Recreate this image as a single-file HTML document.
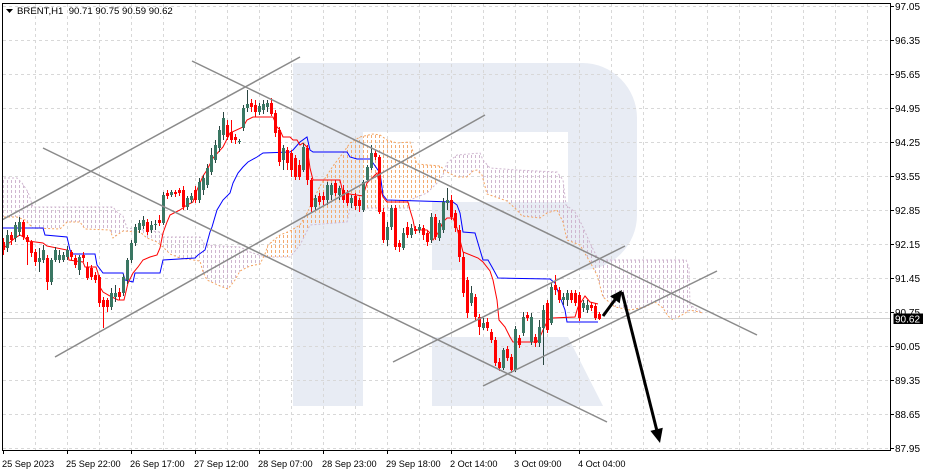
<!DOCTYPE html>
<html>
<head>
<meta charset="utf-8">
<style>
html,body{margin:0;padding:0;background:#fff;}
svg{display:block;}
text{font-family:"Liberation Sans",sans-serif;fill:#000;}
</style>
</head>
<body>
<svg width="931" height="471" viewBox="0 0 931 471" xmlns="http://www.w3.org/2000/svg">
<defs>
<clipPath id="plot"><rect x="3" y="4" width="887" height="446"/></clipPath>
<pattern id="po" patternUnits="userSpaceOnUse" x="3" y="0" width="4" height="5"><rect x="0" y="0" width="1" height="3" fill="#f3aa70" shape-rendering="crispEdges"/></pattern>
<pattern id="pt" patternUnits="userSpaceOnUse" x="3" y="0" width="4" height="5"><rect x="0" y="0" width="1" height="3" fill="#cfb6cf" shape-rendering="crispEdges"/></pattern>
<clipPath id="belowA"><polygon points="0,217 17,217 25,220 33,228 60,229 67,222 80,222 85,229 110,230 113,238 117,235 123,231 140,232 147,238 157,242 163,247 170,254 180,258 200,261 203,272 207,280 220,286 228,289 235,280 240,271 250,266 260,264 265,254 268,245 280,235 290,231 300,225 307,213 320,186 333,166 343,153 350,143 360,137 373,134 380,135 387,140 397,143 410,142 413,152 417,164 440,166 447,172 457,177 467,177 473,171 477,170 482,175 487,194 507,201 517,210 522,216 540,218 547,213 557,210 563,222 567,240 580,245 590,262 597,275 603,297 615,307 630,310 645,307 655,302 663,308 668,316 673,320 682,315 690,310 703,313 703,450 0,450"/></clipPath>
<clipPath id="aboveA"><polygon points="0,217 17,217 25,220 33,228 60,229 67,222 80,222 85,229 110,230 113,238 117,235 123,231 140,232 147,238 157,242 163,247 170,254 180,258 200,261 203,272 207,280 220,286 228,289 235,280 240,271 250,266 260,264 265,254 268,245 280,235 290,231 300,225 307,213 320,186 333,166 343,153 350,143 360,137 373,134 380,135 387,140 397,143 410,142 413,152 417,164 440,166 447,172 457,177 467,177 473,171 477,170 482,175 487,194 507,201 517,210 522,216 540,218 547,213 557,210 563,222 567,240 580,245 590,262 597,275 603,297 615,307 630,310 645,307 655,302 663,308 668,316 673,320 682,315 690,310 703,313 703,0 0,0"/></clipPath>
</defs>

<rect x="0" y="0" width="931" height="471" fill="#fff"/>

<g clip-path="url(#plot)">
<!-- watermark -->
<path d="M293 63H582A55 55 0 0 1 637 118V215A55 55 0 0 1 582 270H432V202H568V132H363V406H293Z" fill="#e8ecf4"/>
<path d="M432 337H568L603 406H432Z" fill="#e8ecf4"/>

<!-- grid -->
<g stroke="#d8d8d8" stroke-width="1" stroke-dasharray="3,3" fill="none">
<path d="M3 6.5H890M3 40.5H890M3 74.5H890M3 108.5H890M3 142.5H890M3 176.5H890M3 210.5H890M3 244.5H890M3 278.5H890M3 312.5H890M3 346.5H890M3 380.5H890M3 414.5H890M3 448.5H890"/>
<path d="M35.5 4V450M67.5 4V450M99.5 4V450M131.5 4V450M163.5 4V450M195.5 4V450M227.5 4V450M259.5 4V450M291.5 4V450M323.5 4V450M355.5 4V450M387.5 4V450M419.5 4V450M451.5 4V450M483.5 4V450M515.5 4V450M547.5 4V450M579.5 4V450M611.5 4V450M643.5 4V450M675.5 4V450M707.5 4V450M739.5 4V450M771.5 4V450M803.5 4V450M835.5 4V450M867.5 4V450"/>
</g>

<!-- cloud hatch -->
<g clip-path="url(#belowA)"><polygon points="0,178 17,178 22,183 28,192 33,207 113,207 117,212 123,216 127,228 160,232 163,237 200,237 205,245 240,247 250,252 265,257 290,257 300,245 310,225 347,222 350,208 408,208 410,200 417,197 427,193 437,183 443,175 447,163 457,155 480,153 483,160 490,168 517,170 557,172 563,180 566,205 575,212 582,225 590,243 597,257 603,260 686,260 689,268 690,305 703,313 703,0 0,0" fill="url(#po)"/></g>
<g clip-path="url(#aboveA)"><polygon points="0,178 17,178 22,183 28,192 33,207 113,207 117,212 123,216 127,228 160,232 163,237 200,237 205,245 240,247 250,252 265,257 290,257 300,245 310,225 347,222 350,208 408,208 410,200 417,197 427,193 437,183 443,175 447,163 457,155 480,153 483,160 490,168 517,170 557,172 563,180 566,205 575,212 582,225 590,243 597,257 603,260 686,260 689,268 690,305 703,313 703,450 0,450" fill="url(#pt)"/></g>

<!-- cloud borders -->
<polyline fill="none" stroke="#F4A460" stroke-width="1" stroke-dasharray="2,2" points="0,217 17,217 25,220 33,228 60,229 67,222 80,222 85,229 110,230 113,238 117,235 123,231 140,232 147,238 157,242 163,247 170,254 180,258 200,261 203,272 207,280 220,286 228,289 235,280 240,271 250,266 260,264 265,254 268,245 280,235 290,231 300,225 307,213 320,186 333,166 343,153 350,143 360,137 373,134 380,135 387,140 397,143 410,142 413,152 417,164 440,166 447,172 457,177 467,177 473,171 477,170 482,175 487,194 507,201 517,210 522,216 540,218 547,213 557,210 563,222 567,240 580,245 590,262 597,275 603,297 615,307 630,310 645,307 655,302 663,308 668,316 673,320 682,315 690,310 703,313"/>
<polyline fill="none" stroke="#cfb6cf" stroke-width="1" stroke-dasharray="2,2" points="0,178 17,178 22,183 28,192 33,207 113,207 117,212 123,216 127,228 160,232 163,237 200,237 205,245 240,247 250,252 265,257 290,257 300,245 310,225 347,222 350,208 408,208 410,200 417,197 427,193 437,183 443,175 447,163 457,155 480,153 483,160 490,168 517,170 557,172 563,180 566,205 575,212 582,225 590,243 597,257 603,260 686,260 689,268 690,305 703,313"/>

<!-- price line -->
<path d="M3 318.5H890" stroke="#cfcfcf" stroke-width="1"/>

<!-- kijun -->
<polyline fill="none" stroke="#0000ff" stroke-width="1" points="2,228 43,228 45,235 67,237 70,250 72,254 95,254 97,265 103,273 123,273 125,280 133,282 135,273 160,273 163,260 195,258 198,255 205,250 210,232 212,227 217,210 223,200 230,193 233,183 238,173 243,167 248,162 257,157 263,153 290,152 293,150 300,142 307,137 310,150 313,152 347,152 350,157 357,159 370,159 373,163 380,173 383,195 387,200 453,202 457,205 460,213 463,232 475,233 480,250 483,260 488,260 492,267 498,278 550,279 555,283 560,297 565,310 567,322 598,322"/>
<!-- tenkan -->
<polyline fill="none" stroke="#ff0000" stroke-width="1" points="2,250 8,244 15,238 20,235 25,238 28,241 43,243 47,246 67,250 69,260 83,262 85,267 96,267 98,273 100,287 103,292 110,296 118,300 124,300 128,283 133,273 138,267 143,260 150,257 157,255 160,248 163,233 167,222 170,215 180,210 187,205 193,202 197,190 203,176 207,170 213,158 223,147 230,133 243,127 247,120 253,117 273,117 277,127 280,130 283,137 290,137 293,140 297,140 300,145 303,143 307,147 310,168 313,180 340,180 343,193 363,196 367,183 373,177 377,173 380,187 383,197 387,202 408,202 410,210 413,220 415,230 427,230 430,233 433,240 438,233 443,222 447,218 453,218 457,228 460,240 463,252 478,258 483,262 490,271 493,280 497,300 499,320 505,327 510,337 513,342 537,342 540,337 543,330 548,320 552,318 575,317 578,307 585,296 590,302 598,304"/>

<!-- candles: bull -->
<path fill="none" stroke="#2a4540" stroke-width="1" d="M7.5 230V252M15.5 222V242M19.5 217V236M39.5 248V272M43.5 245V263M51.5 258V285M55.5 247V262M59.5 250V263M63.5 252V262M67.5 246V260M79.5 255V275M111.5 288V310M115.5 285V302M123.5 274V296M127.5 258V284M131.5 240V263M135.5 224V246M139.5 220V233M143.5 216V229M151.5 221V233M155.5 220V230M163.5 192V225M171.5 190V197M187.5 196V210M191.5 193V203M199.5 178V203M203.5 175V195M207.5 164V188M211.5 148V175M215.5 140V163M219.5 126V152M223.5 112V140M239.5 139V144M243.5 105V131M247.5 90V112M259.5 103V115M263.5 100V114M267.5 100V112M283.5 145V170M303.5 143V172M315.5 195V210M327.5 182V205M331.5 183V200M339.5 186V200M351.5 195V208M363.5 180V212M367.5 165V182M371.5 145V170M387.5 222V246M391.5 205V230M403.5 228V250M411.5 224V238M419.5 224V233M431.5 213V243M439.5 220V241M443.5 198V233M447.5 188V210M471.5 286V306M483.5 318V330M503.5 348V370M515.5 326V372M523.5 312V336M531.5 313V345M539.5 320V347M543.5 305V365M551.5 283V325M563.5 293V305M567.5 290V306M583.5 300V312M587.5 300V313"/>
<path fill="#3a7763" d="M6 235h3v13h-3zM14 225h3v13h-3zM18 222h3v10h-3zM38 258h3v4h-3zM42 250h3v10h-3zM50 260h3v22h-3zM54 250h3v10h-3zM58 255h3v5h-3zM62 255h3v5h-3zM66 250h3v7h-3zM78 257h3v13h-3zM110 293h3v14h-3zM114 293h3v4h-3zM122 277h3v16h-3zM126 260h3v20h-3zM130 243h3v17h-3zM134 227h3v16h-3zM138 223h3v7h-3zM142 220h3v6h-3zM150 225h3v5h-3zM154 224h3v1h-3zM162 195h3v28h-3zM170 192h3v3h-3zM186 198h3v9h-3zM190 196h3v4h-3zM198 182h3v18h-3zM202 178h3v12h-3zM206 168h3v17h-3zM210 155h3v17h-3zM214 145h3v15h-3zM218 130h3v18h-3zM222 118h3v17h-3zM238 141h3v1h-3zM242 108h3v20h-3zM246 104h3v4h-3zM258 106h3v6h-3zM262 104h3v6h-3zM266 103h3v4h-3zM282 148h3v12h-3zM302 147h3v23h-3zM314 198h3v9h-3zM326 185h3v15h-3zM330 185h3v10h-3zM338 188h3v7h-3zM350 198h3v5h-3zM362 182h3v28h-3zM366 167h3v13h-3zM370 153h3v15h-3zM386 227h3v13h-3zM390 208h3v19h-3zM402 233h3v15h-3zM410 228h3v7h-3zM418 227h3v3h-3zM430 217h3v23h-3zM438 223h3v15h-3zM442 202h3v28h-3zM446 200h3v3h-3zM470 293h3v10h-3zM482 323h3v5h-3zM502 350h3v18h-3zM514 329h3v41h-3zM522 317h3v16h-3zM530 317h3v25h-3zM538 327h3v16h-3zM542 310h3v18h-3zM550 287h3v36h-3zM562 297h3v3h-3zM566 293h3v7h-3zM582 303h3v5h-3zM586 305h3v5h-3z"/>
<!-- candles: bear -->
<path fill="none" stroke="#ff0000" stroke-width="1" d="M3.5 238V255M11.5 232V245M23.5 220V240M27.5 235V265M31.5 240V257M35.5 249V266M47.5 255V290M71.5 250V260M75.5 255V268M83.5 252V262M87.5 262V280M91.5 265V280M95.5 272V283M99.5 275V307M103.5 297V328M107.5 298V312M119.5 288V300M147.5 219V235M159.5 215V226M167.5 190V199M175.5 190V197M179.5 188V196M183.5 186V210M195.5 186V203M227.5 120V140M231.5 120V143M235.5 134V144M251.5 99V112M255.5 100V117M271.5 98V116M275.5 110V137M279.5 127V166M287.5 147V170M291.5 150V177M295.5 155V180M299.5 160V180M307.5 145V185M311.5 178V212M319.5 193V205M323.5 192V205M335.5 180V196M343.5 185V203M347.5 190V206M355.5 193V210M359.5 198V212M375.5 150V160M379.5 155V214M383.5 208V243M395.5 205V250M399.5 240V252M407.5 222V238M415.5 226V234M423.5 225V240M427.5 230V246M435.5 214V240M451.5 195V220M455.5 210V232M459.5 225V262M463.5 252V297M467.5 277V318M475.5 294V320M479.5 314V335M487.5 318V331M491.5 329V343M495.5 337V366M499.5 358V371M507.5 346V361M511.5 354V373M519.5 335V348M527.5 312V321M535.5 334V347M547.5 300V333M555.5 275V295M559.5 287V303M571.5 290V303M575.5 290V306M579.5 292V321M591.5 302V311M595.5 303V320M599.5 312V320"/>
<path fill="#ff0000" d="M2 242h3v8h-3zM10 235h3v5h-3zM22 222h3v15h-3zM26 237h3v5h-3zM30 242h3v11h-3zM34 252h3v10h-3zM46 258h3v24h-3zM70 252h3v5h-3zM74 258h3v7h-3zM82 255h3v3h-3zM86 267h3v11h-3zM90 268h3v9h-3zM94 275h3v5h-3zM98 277h3v26h-3zM102 300h3v7h-3zM106 300h3v7h-3zM118 292h3v5h-3zM146 222h3v10h-3zM158 220h3v3h-3zM166 193h3v3h-3zM174 192h3v2h-3zM178 190h3v3h-3zM182 190h3v17h-3zM194 190h3v10h-3zM226 125h3v12h-3zM230 132h3v8h-3zM234 137h3v3h-3zM250 103h3v4h-3zM254 105h3v7h-3zM270 103h3v11h-3zM274 113h3v20h-3zM278 130h3v32h-3zM286 150h3v13h-3zM290 153h3v17h-3zM294 158h3v19h-3zM298 165h3v12h-3zM306 148h3v32h-3zM310 180h3v27h-3zM318 196h3v6h-3zM322 196h3v4h-3zM334 183h3v10h-3zM342 190h3v10h-3zM346 193h3v10h-3zM354 196h3v10h-3zM358 200h3v6h-3zM374 153h3v4h-3zM378 157h3v55h-3zM382 212h3v28h-3zM394 208h3v39h-3zM398 243h3v4h-3zM406 227h3v8h-3zM414 229h3v2h-3zM422 228h3v7h-3zM426 233h3v9h-3zM434 217h3v20h-3zM450 200h3v17h-3zM454 213h3v15h-3zM458 230h3v27h-3zM462 257h3v36h-3zM466 280h3v33h-3zM474 297h3v20h-3zM478 317h3v10h-3zM486 322h3v6h-3zM490 332h3v8h-3zM494 340h3v23h-3zM498 362h3v6h-3zM506 349h3v9h-3zM510 357h3v13h-3zM518 338h3v7h-3zM526 315h3v3h-3zM534 337h3v6h-3zM546 303h3v27h-3zM554 285h3v5h-3zM558 290h3v10h-3zM570 293h3v7h-3zM574 293h3v10h-3zM578 295h3v23h-3zM590 305h3v3h-3zM594 306h3v12h-3zM598 314h3v5h-3z"/>

<!-- trend lines -->
<g stroke="#8a8a8a" stroke-width="1.5" fill="none">
<line x1="0" y1="221" x2="300" y2="57"/>
<line x1="192" y1="61" x2="757" y2="335"/>
<line x1="43" y1="148" x2="607" y2="422"/>
<line x1="55" y1="357" x2="485" y2="115"/>
<line x1="393" y1="362" x2="625" y2="246"/>
<line x1="483" y1="386" x2="717" y2="271"/>
</g>

<!-- arrows -->
<g stroke="#000" stroke-width="3" fill="none" stroke-linecap="butt">
<line x1="603" y1="316" x2="615.5" y2="299"/>
<line x1="622" y1="292" x2="656.6" y2="429.5"/>
</g>
<polygon points="622,290 619.7,303.2 610.1,296.2" fill="#000"/>
<polygon points="660,443 662.8,427.8 650.4,430.9" fill="#000"/>
</g>

<!-- frame -->
<rect x="2.5" y="3.5" width="888" height="447" fill="none" stroke="#000" stroke-width="1"/>

<!-- header -->
<polygon points="6,9 13,9 9.5,13" fill="#000"/>
<text x="17" y="14" font-size="9.6" style="white-space:pre">BRENT,H1  90.71 90.75 90.59 90.62</text>

<!-- right axis -->
<g stroke="#000" stroke-width="1">
<path d="M890 6.5H894M890 40.5H894M890 74.5H894M890 108.5H894M890 142.5H894M890 176.5H894M890 210.5H894M890 244.5H894M890 278.5H894M890 312.5H894M890 346.5H894M890 380.5H894M890 414.5H894M890 448.5H894"/>
</g>
<g font-size="10">
<text x="895" y="10">97.05</text>
<text x="895" y="44">96.35</text>
<text x="895" y="78">95.65</text>
<text x="895" y="112">94.95</text>
<text x="895" y="146">94.25</text>
<text x="895" y="180">93.55</text>
<text x="895" y="214">92.85</text>
<text x="895" y="248">92.15</text>
<text x="895" y="282">91.45</text>
<text x="895" y="316">90.75</text>
<text x="895" y="350">90.05</text>
<text x="895" y="384">89.35</text>
<text x="895" y="418">88.65</text>
<text x="895" y="452">87.95</text>
</g>
<rect x="893.5" y="313.5" width="29.5" height="10.5" fill="#000"/>
<text x="895" y="322.5" font-size="10" style="fill:#fff">90.62</text>

<!-- bottom axis -->
<path d="M3.5 450V454M67.5 450V454M131.5 450V454M195.5 450V454M259.5 450V454M323.5 450V454M387.5 450V454M451.5 450V454M515.5 450V454M579.5 450V454" stroke="#000" stroke-width="1"/>
<g font-size="9.2">
<text x="2" y="467">25 Sep 2023</text>
<text x="66" y="467">25 Sep 22:00</text>
<text x="130" y="467">26 Sep 17:00</text>
<text x="194" y="467">27 Sep 12:00</text>
<text x="258" y="467">28 Sep 07:00</text>
<text x="322" y="467">28 Sep 23:00</text>
<text x="386" y="467">29 Sep 18:00</text>
<text x="450" y="467">2 Oct 14:00</text>
<text x="514" y="467">3 Oct 09:00</text>
<text x="578" y="467">4 Oct 04:00</text>
</g>
</svg>
</body>
</html>
